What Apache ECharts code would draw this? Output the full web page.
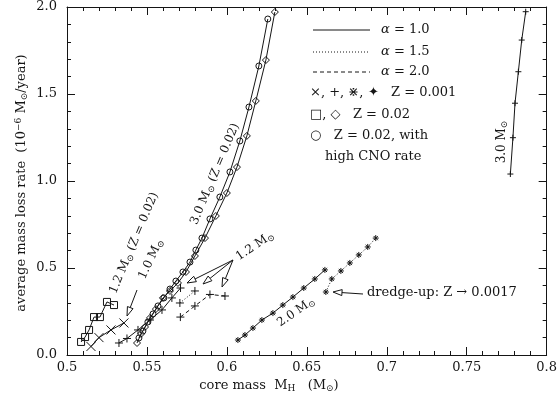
<!DOCTYPE html>
<html>
<head>
<meta charset="utf-8">
<script src="https://cdn.jsdelivr.net/npm/echarts@6.0.0/dist/echarts.min.js"></script>
<style>
  html, body { margin: 0; background: #fff; }
  #chart { width: 560px; height: 399px; }
</style>
</head>
<body>
<div id="chart"></div>
<script>
// tick labels
const xTickLabels = ['0.5', '0.55', '0.6', '0.65', '0.7', '0.75', '0.8'];
const yTickLabels = ['0.0', '0.5', '1.0', '1.5', '2.0'];

// 1.2 Msun, Z = 0.02, alpha = 1.0 (squares)
const sq12X = [0.5088, 0.5113, 0.5138, 0.5169, 0.5206, 0.5250, 0.5294];
const sq12Y = [0.075, 0.103, 0.144, 0.218, 0.218, 0.305, 0.287];
// 1.0 Msun, Z = 0.001, alpha = 1.0 (crosses)
const x10X = [0.5150, 0.5200, 0.5275, 0.5356];
const x10Y = [0.049, 0.100, 0.144, 0.184];
// 1.2 Msun, Z = 0.001 (plus) for alpha 1.0 / 1.5 / 2.0
const p12aX = [0.5325, 0.5375, 0.5444, 0.5519, 0.5594, 0.5656, 0.5710];
const p12aY = [0.069, 0.095, 0.144, 0.201, 0.259, 0.328, 0.385];
const p12bX = [0.5706, 0.5800];
const p12bY = [0.299, 0.368];
const p12cX = [0.5709, 0.5800, 0.5894, 0.5988];
const p12cY = [0.218, 0.282, 0.348, 0.339];
// 3.0 Msun, Z = 0.02 with high CNO rate (circles)
const c30X = [0.5450, 0.5475, 0.5506, 0.5538, 0.5569, 0.5606, 0.5644, 0.5681, 0.5725, 0.5769,
              0.5806, 0.5844, 0.5894, 0.5956, 0.6019, 0.6081, 0.6138, 0.6200, 0.6256];
const c30Y = [0.098, 0.138, 0.190, 0.236, 0.282, 0.328, 0.379, 0.425, 0.477, 0.534,
              0.603, 0.672, 0.782, 0.908, 1.052, 1.230, 1.425, 1.661, 1.931];
// 3.0 Msun, Z = 0.02 (diamonds)
const d30X = [0.5438, 0.5463, 0.5488, 0.5519, 0.5556, 0.5600, 0.5644, 0.5694, 0.5744, 0.5800,
              0.5863, 0.5931, 0.6000, 0.6063, 0.6125, 0.6181, 0.6244, 0.6300];
const d30Y = [0.069, 0.121, 0.161, 0.213, 0.264, 0.328, 0.368, 0.414, 0.477, 0.569,
              0.672, 0.799, 0.931, 1.080, 1.259, 1.460, 1.695, 1.971];
// 2.0 Msun, Z = 0.001 and dredge-up continuation
const s20X = [0.6069, 0.6113, 0.6163, 0.6219, 0.6288, 0.6350, 0.6413, 0.6481, 0.6550, 0.6613];
const s20Y = [0.086, 0.115, 0.155, 0.201, 0.241, 0.287, 0.333, 0.385, 0.437, 0.489];
const dredgeX = [0.6619, 0.6656, 0.6713, 0.6769, 0.6825, 0.6881, 0.6931];
const dredgeY = [0.362, 0.437, 0.483, 0.529, 0.575, 0.621, 0.672];
// 3.0 Msun, Z = 0.001
const st30X = [0.7773, 0.7789, 0.7802, 0.7823, 0.7844, 0.7869];
const st30Y = [1.040, 1.249, 1.447, 1.628, 1.810, 1.973];

const FONT = 'DejaVu Serif';
const INK = '#151515';

const SYM_CROSS = 'path://M0,0L10,10M10,0L0,10';
const SYM_PLUS = 'path://M5,0L5,10M0,5L10,5';
const SYM_AST = 'path://M5,0L5,10M0,5L10,5M1.5,1.5L8.5,8.5M8.5,1.5L1.5,8.5';

function zip(xs, ys) {
    return xs.map((x, i) => [x, ys[i]]);
}

function makeSeries(xs, ys, symbol, size, lineType) {
    return {
        type: 'line',
        data: zip(xs, ys),
        symbol: symbol,
        symbolSize: size,
        showAllSymbol: true,
        silent: true,
        lineStyle: { color: INK, width: 1, type: lineType },
        itemStyle: { color: 'rgba(255,255,255,0)', borderColor: INK, borderWidth: 1 },
        clip: false
    };
}

// arrow with an open triangular head at (x2, y2)
function arrow(x1, y1, x2, y2) {
    const len = Math.hypot(x2 - x1, y2 - y1);
    const ux = (x2 - x1) / len, uy = (y2 - y1) / len;
    const L = 9, w = 3;
    const bx = x2 - ux * L, by = y2 - uy * L;
    return [
        { type: 'line', shape: { x1: x1, y1: y1, x2: bx, y2: by }, style: { stroke: INK, lineWidth: 1 } },
        { type: 'polygon', shape: { points: [[x2, y2], [bx - uy * w, by + ux * w], [bx + uy * w, by - ux * w]] },
          style: { fill: '#fff', stroke: INK, lineWidth: 1 } }
    ];
}

const rich = {
    t: { fontFamily: FONT, fontSize: 13, fill: INK, color: INK },
    s: { fontFamily: FONT, fontSize: 9, fill: INK, color: INK, verticalAlign: 'bottom', padding: [6, 0, 0, 0] },
    p: { fontFamily: FONT, fontSize: 9, fill: INK, color: INK, verticalAlign: 'top', padding: [0, 0, 6, 0] },
    a: { fontFamily: FONT, fontSize: 13, fontStyle: 'italic', fill: INK, color: INK }
};

function label(text, x, y, deg, align, size) {
    const r = JSON.parse(JSON.stringify(rich));
    if (size) { r.t.fontSize = size; r.a.fontSize = size; }
    return {
        type: 'text', x: x, y: y, rotation: (deg || 0) * Math.PI / 180,
        style: {
            text: text, rich: r, fontFamily: FONT, fontSize: size || 13, fill: INK,
            align: align || 'center', textAlign: align || 'center',
            verticalAlign: 'middle', textVerticalAlign: 'middle'
        }
    };
}

function legendLine(y, type) {
    return { type: 'line', shape: { x1: 313, y1: y, x2: 370, y2: y },
             style: { stroke: INK, lineWidth: 1, lineDash: type } };
}

const graphics = [
    // axis titles
    label('{t|core mass  M}{s|H}{t|   (M}{s|⊙}{t|)}', 269, 386, 0),
    label('{t|average mass loss rate  (10}{p|−6}{t| M}{s|⊙}{t|/year)}', 22, 183, 90),
    // legend
    legendLine(30, null),
    legendLine(52, [1, 2]),
    legendLine(72, [4, 3]),
    label('{a|α}{t| = 1.0}', 381, 30, 0, 'left'),
    label('{a|α}{t| = 1.5}', 381, 52, 0, 'left'),
    label('{a|α}{t| = 2.0}', 381, 72, 0, 'left'),
    label('{t|×, +, ⋇, ✦   Z = 0.001}', 310, 93, 0, 'left'),
    label('{t|□, ◇   Z = 0.02}', 310, 115, 0, 'left'),
    label('{t|○   Z = 0.02, with}', 310, 136, 0, 'left'),
    label('{t|high CNO rate}', 325, 157, 0, 'left'),
    // curve annotations
    label('{t|1.2 M}{s|⊙}{t| (Z = 0.02)}', 134, 243, 67, 'center', 12),
    label('{t|1.0 M}{s|⊙}', 151, 259, 65, 'center', 12),
    label('{t|3.0 M}{s|⊙}{t| (Z = 0.02)}', 215, 174, 67, 'center', 12),
    label('{t|1.2 M}{s|⊙}', 255, 246, 34, 'center', 12),
    label('{t|2.0 M}{s|⊙}', 296, 312, 35, 'center', 12),
    label('{t|3.0 M}{s|⊙}', 502, 142, 90, 'center', 12),
    label('{t|dredge-up: Z → 0.0017}', 367, 293, 0, 'left', 13)
].concat(
    arrow(137, 290, 127, 316),
    arrow(233, 260, 187, 283),
    arrow(233, 260, 203, 284),
    arrow(233, 260, 222, 287),
    arrow(363, 294, 333, 292)
);

function xAxisCfg(pos) {
    return {
        type: 'value', min: 0.5, max: 0.8, interval: 0.05, position: pos,
        axisLine: { show: true, onZero: false, lineStyle: { color: INK, width: 1 } },
        axisTick: { show: true, inside: true, length: 8, lineStyle: { color: INK } },
        minorTick: { show: true, splitNumber: 5, length: 4, lineStyle: { color: INK } },
        splitLine: { show: false },
        axisLabel: {
            show: pos === 'bottom', color: INK, fontFamily: FONT, fontSize: 13, margin: 6,
            formatter: v => xTickLabels[Math.round((v - 0.5) / 0.05)]
        }
    };
}

function yAxisCfg(pos) {
    return {
        type: 'value', min: 0, max: 2, interval: 0.5, position: pos,
        axisLine: { show: true, onZero: false, lineStyle: { color: INK, width: 1 } },
        axisTick: { show: true, inside: true, length: 8, lineStyle: { color: INK } },
        minorTick: { show: true, splitNumber: 5, length: 4, lineStyle: { color: INK } },
        splitLine: { show: false },
        axisLabel: {
            show: pos === 'left', color: INK, fontFamily: FONT, fontSize: 13, margin: 10,
            formatter: v => yTickLabels[Math.round(v / 0.5)]
        }
    };
}

const chart = echarts.init(document.getElementById('chart'), null, { renderer: 'canvas' });
chart.setOption({
    animation: false,
    backgroundColor: '#fff',
    grid: { left: 67, right: 13, top: 7, bottom: 44 },
    xAxis: [xAxisCfg('bottom'), xAxisCfg('top')],
    yAxis: [yAxisCfg('left'), yAxisCfg('right')],
    series: [
        makeSeries(sq12X, sq12Y, 'rect', 7, 'solid'),
        makeSeries(x10X, x10Y, SYM_CROSS, 9, 'solid'),
        makeSeries(p12aX, p12aY, SYM_PLUS, 8, 'solid'),
        makeSeries(p12bX, p12bY, SYM_PLUS, 8, [1, 2]),
        makeSeries(p12cX, p12cY, SYM_PLUS, 8, [4, 3]),
        makeSeries(c30X, c30Y, 'circle', 6, 'solid'),
        makeSeries(d30X, d30Y, 'diamond', 7, 'solid'),
        makeSeries(s20X, s20Y, SYM_AST, 6, 'solid'),
        makeSeries(dredgeX, dredgeY, SYM_AST, 6, [1, 2]),
        makeSeries(st30X, st30Y, SYM_PLUS, 6, 'solid')
    ],
    graphic: graphics
});
</script>
</body>
</html>
